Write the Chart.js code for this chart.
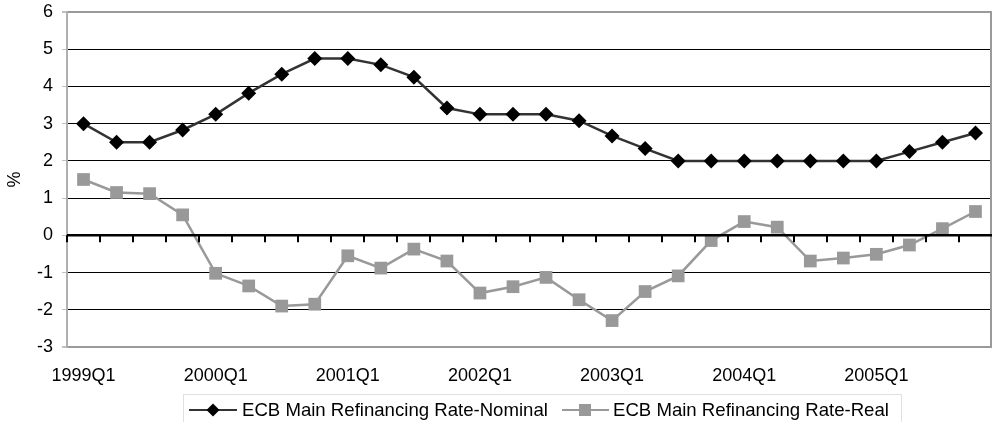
<!DOCTYPE html>
<html>
<head>
<meta charset="utf-8">
<script src="https://cdn.jsdelivr.net/npm/chart.js@4/dist/chart.umd.min.js"></script>
<style>
  html, body { margin: 0; padding: 0; background: #fff; }
  #wrap { width: 993px; height: 422px; }
</style>
</head>
<body>
<div id="wrap"><canvas id="c" width="993" height="422"></canvas></div>
<script>
// Quarterly ECB main refinancing rate, nominal and real (%)
const quarters = [
  '1999Q1','1999Q2','1999Q3','1999Q4',
  '2000Q1','2000Q2','2000Q3','2000Q4',
  '2001Q1','2001Q2','2001Q3','2001Q4',
  '2002Q1','2002Q2','2002Q3','2002Q4',
  '2003Q1','2003Q2','2003Q3','2003Q4',
  '2004Q1','2004Q2','2004Q3','2004Q4',
  '2005Q1','2005Q2','2005Q3','2005Q4'
];
const nominalRate = [
  3.00, 2.50, 2.50, 2.83,
  3.25, 3.82, 4.33, 4.75,
  4.75, 4.58, 4.25, 3.42,
  3.25, 3.25, 3.25, 3.08,
  2.67, 2.33, 2.00, 2.00,
  2.00, 2.00, 2.00, 2.00,
  2.00, 2.25, 2.50, 2.75
];
const realRate = [
  1.50, 1.15, 1.12, 0.55,
  -1.02, -1.36, -1.90, -1.85,
  -0.55, -0.88, -0.37, -0.69,
  -1.55, -1.38, -1.13, -1.73,
  -2.29, -1.51, -1.09, -0.14,
  0.37, 0.22, -0.69, -0.61,
  -0.51, -0.26, 0.18, 0.64
];
const seriesNames = ['ECB Main Refinancing Rate-Nominal', 'ECB Main Refinancing Rate-Real'];
const yTicks = { min: -3, max: 6, step: 1 };

const FONT = '"Liberation Sans", Arial, sans-serif';

// Zero axis with category tick marks, right plot border and a line-and-marker legend
const decorations = {
  id: 'decorations',
  afterDatasetsDraw(chart) {
    const { ctx, chartArea, scales } = chart;
    const x = scales.x, y = scales.y;
    const y0 = y.getPixelForValue(0);
    ctx.save();
    // right border of the plot area
    ctx.strokeStyle = '#9a9a9a';
    ctx.lineWidth = 2;
    ctx.beginPath();
    ctx.moveTo(chartArea.right - 1, chartArea.top);
    ctx.lineTo(chartArea.right - 1, chartArea.bottom);
    ctx.stroke();
    // zero line
    ctx.strokeStyle = '#000';
    ctx.lineWidth = 2.5;
    ctx.beginPath();
    ctx.moveTo(chartArea.left, y0);
    ctx.lineTo(chartArea.right, y0);
    ctx.stroke();
    // tick marks at category boundaries
    ctx.lineWidth = 2;
    ctx.beginPath();
    const n = quarters.length;
    const step = (x.getPixelForValue(n - 1) - x.getPixelForValue(0)) / (n - 1);
    for (let i = 0; i < n; i++) {
      const bx = Math.round(x.getPixelForValue(i) - step / 2);
      ctx.moveTo(bx, y0);
      ctx.lineTo(bx, y0 + 7);
    }
    ctx.stroke();
    ctx.restore();
  },
  afterDraw(chart) {
    const { ctx } = chart;
    ctx.save();
    // legend frame
    ctx.strokeStyle = '#e0e0e0';
    ctx.lineWidth = 1;
    ctx.strokeRect(183.5, 394.5, 718, 40);
    ctx.font = '18.6px ' + FONT;
    ctx.fillStyle = '#000';
    ctx.textBaseline = 'middle';
    const ly = 410;
    const items = [
      { x0: 189, x1: 237, mx: 213, tx: 242, ds: chart.data.datasets[0] },
      { x0: 562, x1: 609, mx: 585, tx: 613, ds: chart.data.datasets[1] }
    ];
    items.forEach((it, k) => {
      ctx.strokeStyle = it.ds.borderColor;
      ctx.lineWidth = 2;
      ctx.beginPath();
      ctx.moveTo(it.x0, ly);
      ctx.lineTo(it.x1, ly);
      ctx.stroke();
      ctx.fillStyle = it.ds.pointBackgroundColor;
      ctx.beginPath();
      if (k === 0) {
        const r = 6.5;
        ctx.moveTo(it.mx, ly - r);
        ctx.lineTo(it.mx + r, ly);
        ctx.lineTo(it.mx, ly + r);
        ctx.lineTo(it.mx - r, ly);
        ctx.closePath();
      } else {
        ctx.rect(it.mx - 6, ly - 6, 12, 12);
      }
      ctx.fill();
      ctx.fillStyle = '#000';
      ctx.fillText(it.ds.label, it.tx, ly + 1);
    });
    ctx.restore();
  }
};

new Chart(document.getElementById('c'), {
  type: 'line',
  data: {
    labels: quarters,
    datasets: [
      {
        label: seriesNames[0],
        data: nominalRate,
        borderColor: '#333333',
        borderWidth: 2.5,
        pointStyle: 'rectRot',
        pointRadius: 7.5,
        pointBackgroundColor: '#000000',
        pointBorderColor: '#000000',
        pointBorderWidth: 0,
        tension: 0
      },
      {
        label: seriesNames[1],
        data: realRate,
        borderColor: '#999999',
        borderWidth: 2.5,
        pointStyle: 'rect',
        pointRadius: 9,
        pointBackgroundColor: '#999999',
        pointBorderColor: '#999999',
        pointBorderWidth: 0,
        tension: 0
      }
    ]
  },
  options: {
    responsive: false,
    animation: false,
    devicePixelRatio: 1,
    layout: { autoPadding: false, padding: { top: 12, right: 1, bottom: 35, left: 0 } },
    plugins: { legend: { display: false }, tooltip: { enabled: false } },
    scales: {
      x: {
        type: 'category',
        offset: true,
        grid: { display: false, drawTicks: false },
        border: { display: false },
        afterFit(scale) {
          scale.height = 40;
          scale.paddingLeft = 0;
          scale.paddingRight = 0;
        },
        ticks: {
          autoSkip: false,
          maxRotation: 0,
          minRotation: 0,
          padding: 18,
          color: '#000',
          font: { family: FONT, size: 18 },
          callback(value, index) {
            const q = quarters[index];
            return q.endsWith('Q1') ? q : '';
          }
        }
      },
      y: {
        min: yTicks.min,
        max: yTicks.max,
        afterFit(scale) {
          scale.width = 67;
          scale.paddingTop = 0;
          scale.paddingBottom = 0;
        },
        border: { display: true, color: '#b0b0b0', width: 2 },
        grid: {
          drawTicks: true,
          tickLength: 5,
          tickColor: '#c0c0c0',
          color(c) {
            const v = c.tick.value;
            if (v === yTicks.max || v === yTicks.min) return '#9a9a9a';
            return '#000000';
          },
          lineWidth(c) {
            const v = c.tick.value;
            if (v === yTicks.max || v === yTicks.min) return 2;
            return 1;
          }
        },
        ticks: {
          stepSize: yTicks.step,
          padding: 9,
          color: '#000',
          font: { family: FONT, size: 18 }
        },
        title: {
          display: true,
          text: '%',
          color: '#000',
          font: { family: FONT, size: 18 },
          padding: { top: 4, bottom: 0 }
        }
      }
    }
  },
  plugins: [decorations]
});
</script>
</body>
</html>
